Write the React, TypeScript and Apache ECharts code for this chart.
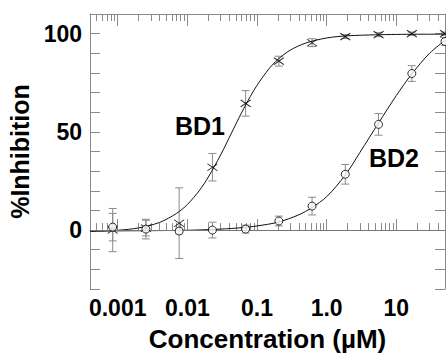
import React, { useEffect, useRef } from "react";
import * as echarts from "echarts";

// Concentrations (µM) of the 3-fold dilution series
const concentrations = [0.000847, 0.00254, 0.00762, 0.0229, 0.0686, 0.206, 0.617, 1.85, 5.56, 16.7, 50];
// BD1 (x markers)
const bd1Mean = [0, 1, 3.5, 32, 64.5, 86, 95.4, 98.5, 99.5, 100, 100];
const bd1Err = [11, 4, 18, 7, 6.5, 2.5, 2, 1, 1, 0.8, 0.8];
// BD2 (open circles)
const bd2Mean = [1.5, 0.5, -0.5, 0, 0.5, 4.6, 12.2, 28.4, 53.8, 79.7, 96];
const bd2Err = [7, 5, 1.5, 4, 2, 2.5, 4.5, 5, 5.5, 4, 2];

// Fitted curves
const bd1CurveX = [0.0004, 0.001, 0.002, 0.004, 0.007, 0.01, 0.015, 0.02, 0.03, 0.043, 0.06, 0.08, 0.1, 0.15, 0.2, 0.3, 0.5, 1, 2, 5, 10, 20, 50];
const bd1CurveY = [-0.7, -0.1, 1.1, 3.9, 8.5, 13, 20.3, 27, 38.2, 49.4, 59.7, 68, 73.7, 82.3, 86.9, 91.6, 95.2, 97.8, 98.9, 99.4, 99.6, 99.7, 99.7];
const bd2CurveX = [0.0004, 0.001, 0.01, 0.03, 0.06, 0.1, 0.2, 0.4, 0.617, 1, 1.85, 3, 5.56, 10, 16.7, 30, 50];
const bd2CurveY = [-0.5, -0.4, -0.1, 0.5, 1.2, 2.1, 4.0, 7.8, 11.5, 17, 28, 39.5, 54.5, 68.5, 79.5, 90, 96.5];

// Axis ticks and labels
const majorTicks = [0.001, 0.01, 0.1, 1, 10];
const majorTickLabels = ["0.001", "0.01", "0.1", "1.0", "10"];
const minorTicks = [
  0.0005, 0.0006, 0.0007, 0.0008, 0.0009,
  0.002, 0.003, 0.004, 0.005, 0.006, 0.007, 0.008, 0.009,
  0.02, 0.03, 0.04, 0.05, 0.06, 0.07, 0.08, 0.09,
  0.2, 0.3, 0.4, 0.5, 0.6, 0.7, 0.8, 0.9,
  2, 3, 4, 5, 6, 7, 8, 9,
  20, 30, 40,
];
const yLabelValues = [0, 50, 100];

const GREY = "#8a8a8a";
const FONT = "'Liberation Sans', Arial, Helvetica, sans-serif";

export default function App() {
  const ref = useRef<HTMLDivElement>(null);

  useEffect(() => {
    if (!ref.current) return;
    const chart = echarts.init(ref.current, undefined, { renderer: "svg" });

    const xRange = { min: 0.0004, max: 50 };
    const fmtX = (v: number) => {
      const i = majorTicks.findIndex((t) => Math.abs(Math.log10(t) - Math.log10(v)) < 1e-6);
      return i >= 0 ? majorTickLabels[i] : "";
    };

    const errData = (means: number[], errs: number[]) =>
      concentrations.map((c, i) => [c, means[i] - errs[i], means[i] + errs[i]]);

    const renderErr = (params: any, api: any) => {
      const x = api.value(0);
      const top = api.coord([x, api.value(2)]);
      const bot = api.coord([x, api.value(1)]);
      const w = 4;
      const style = { stroke: GREY, lineWidth: 1, fill: "none" };
      return {
        type: "group",
        children: [
          { type: "line", shape: { x1: top[0], y1: top[1], x2: bot[0], y2: bot[1] }, style },
          { type: "line", shape: { x1: top[0] - w, y1: top[1], x2: top[0] + w, y2: top[1] }, style },
          { type: "line", shape: { x1: bot[0] - w, y1: bot[1], x2: bot[0] + w, y2: bot[1] }, style },
        ],
      };
    };

    const baseX = (extra: any) => ({
      type: "log",
      logBase: 10,
      ...xRange,
      splitLine: { show: false },
      ...extra,
    });

    chart.setOption({
      animation: false,
      backgroundColor: "#ffffff",
      grid: { left: 90, top: 14, width: 355, height: 275, outerBoundsMode: "none" },
      xAxis: [
        baseX({
          position: "bottom",
          name: "Concentration (µM)",
          nameLocation: "middle",
          nameGap: 37,
          nameTextStyle: { fontFamily: FONT, fontWeight: "bold", fontSize: 26, color: "#000" },
          axisLine: { show: true, lineStyle: { color: GREY, width: 1 } },
          axisTick: { show: true, inside: true, length: 11, customValues: majorTicks, lineStyle: { color: GREY } },
          axisLabel: {
            show: true,
            customValues: majorTicks,
            formatter: fmtX,
            margin: 7,
            fontFamily: FONT,
            fontWeight: "bold",
            fontSize: 23,
            color: "#000",
          },
        }),
        baseX({
          position: "bottom",
          axisLine: { show: false },
          axisTick: { show: true, inside: true, length: 7, customValues: minorTicks, lineStyle: { color: GREY } },
          axisLabel: { show: false },
        }),
        baseX({
          position: "top",
          axisLine: { show: true, lineStyle: { color: GREY, width: 1 } },
          axisTick: { show: true, inside: true, length: 12, customValues: majorTicks, lineStyle: { color: GREY } },
          axisLabel: { show: false },
        }),
        baseX({
          position: "top",
          axisLine: { show: false },
          axisTick: { show: true, inside: true, length: 7, customValues: minorTicks, lineStyle: { color: GREY } },
          axisLabel: { show: false },
        }),
      ],
      yAxis: [
        {
          type: "value",
          position: "left",
          min: -30,
          max: 110,
          interval: 10,
          name: "%Inhibition",
          nameLocation: "middle",
          nameGap: 44,
          nameTextStyle: { fontFamily: FONT, fontWeight: "bold", fontSize: 25, color: "#000" },
          splitLine: { show: false },
          axisLine: { show: true, lineStyle: { color: GREY, width: 1 } },
          axisTick: { show: true, inside: true, length: 10, lineStyle: { color: GREY } },
          axisLabel: {
            show: true,
            margin: 8,
            formatter: (v: number) => (yLabelValues.includes(v) ? String(v) : ""),
            fontFamily: FONT,
            fontWeight: "bold",
            fontSize: 23,
            color: "#000",
          },
        },
        {
          type: "value",
          position: "right",
          min: -30,
          max: 110,
          interval: 10,
          splitLine: { show: false },
          axisLine: { show: true, lineStyle: { color: GREY, width: 1 } },
          axisTick: { show: true, inside: true, length: 10, lineStyle: { color: GREY } },
          axisLabel: { show: false },
        },
      ],
      graphic: [
        {
          type: "text",
          x: 200,
          y: 126,
          style: {
            text: "BD1",
            fontFamily: FONT,
            fontWeight: "bold",
            fontSize: 25,
            fill: "#000",
            textAlign: "center",
            textVerticalAlign: "middle",
          },
        },
        {
          type: "text",
          x: 394,
          y: 158,
          style: {
            text: "BD2",
            fontFamily: FONT,
            fontWeight: "bold",
            fontSize: 25,
            fill: "#000",
            textAlign: "center",
            textVerticalAlign: "middle",
          },
        },
      ],
      series: [
        {
          type: "line",
          name: "zero",
          xAxisIndex: 0,
          yAxisIndex: 0,
          data: [],
          markLine: {
            silent: true,
            symbol: ["none", "none"],
            label: { show: false },
            lineStyle: { color: "#777", width: 1, type: "solid" },
            data: [{ yAxis: 0 }],
          },
        },
        {
          type: "custom",
          name: "BD1 err",
          xAxisIndex: 0,
          yAxisIndex: 0,
          renderItem: renderErr,
          encode: { x: 0, y: [1, 2] },
          data: errData(bd1Mean, bd1Err),
          z: 2,
        },
        {
          type: "custom",
          name: "BD2 err",
          xAxisIndex: 0,
          yAxisIndex: 0,
          renderItem: renderErr,
          encode: { x: 0, y: [1, 2] },
          data: errData(bd2Mean, bd2Err),
          z: 2,
        },
        {
          type: "line",
          name: "BD1 fit",
          xAxisIndex: 0,
          yAxisIndex: 0,
          smooth: 0.3,
          showSymbol: false,
          lineStyle: { color: "#111", width: 1 },
          data: bd1CurveX.map((x, i) => [x, bd1CurveY[i]]),
          z: 3,
        },
        {
          type: "line",
          name: "BD2 fit",
          xAxisIndex: 0,
          yAxisIndex: 0,
          smooth: 0.3,
          showSymbol: false,
          lineStyle: { color: "#111", width: 1 },
          data: bd2CurveX.map((x, i) => [x, bd2CurveY[i]]),
          z: 3,
        },
        {
          type: "scatter",
          name: "BD1",
          xAxisIndex: 0,
          yAxisIndex: 0,
          symbol: "path://M0,0L10,7M10,0L0,7",
          symbolSize: [10, 7],
          itemStyle: { color: "none", borderColor: "#000", borderWidth: 1 },
          data: concentrations.map((c, i) => [c, bd1Mean[i]]),
          z: 4,
        },
        {
          type: "scatter",
          name: "BD2",
          xAxisIndex: 0,
          yAxisIndex: 0,
          symbol: "circle",
          symbolSize: 8,
          itemStyle: { color: "#fff", borderColor: "#000", borderWidth: 1 },
          data: concentrations.map((c, i) => [c, bd2Mean[i]]),
          z: 5,
        },
      ],
    });

    return () => chart.dispose();
  }, []);

  return (
    <div
      ref={ref}
      style={{ position: "fixed", left: 0, top: 0, width: 446, height: 354, background: "#fff" }}
    />
  );
}
